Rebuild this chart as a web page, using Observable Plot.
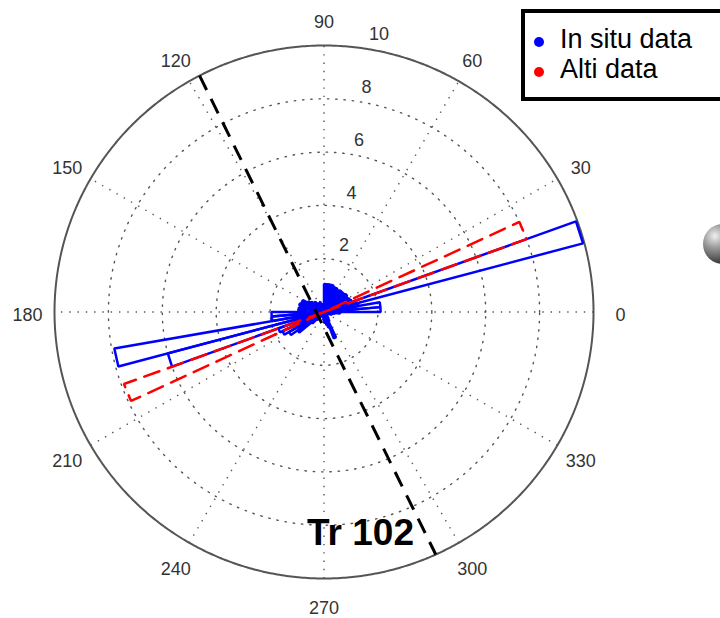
<!DOCTYPE html>
<html>
<head>
<meta charset="utf-8">
<script src="https://cdn.jsdelivr.net/npm/d3@7"></script>
<script src="https://cdn.jsdelivr.net/npm/@observablehq/plot@0.6"></script>
<style>
html, body { margin: 0; padding: 0; background: #fff; overflow: hidden; }
#wrap { position: relative; width: 720px; height: 618px; overflow: hidden; font-family: "Liberation Sans", Arial, sans-serif; }
#chart { position: absolute; left: 0; top: 0; }
#legend { position: absolute; left: 521px; top: 9px; width: 240px; height: 92px; box-sizing: border-box; border: 4px solid #000; background: #fff; }
#legend .dot { position: absolute; width: 10px; height: 10px; border-radius: 50%; }
#legend .lab { position: absolute; font-size: 27px; line-height: 27px; color: #000; white-space: nowrap; }
#title { position: absolute; left: 307px; top: 514px; font-size: 37px; line-height: 37px; font-weight: bold; color: #000; white-space: nowrap; }
#ball { position: absolute; left: 703px; top: 224px; width: 40px; height: 40px; border-radius: 50%;
  background: radial-gradient(circle at 30% 30%, #f0f0f0 0%, #9a9a9a 30%, #3a3a3a 70%, #1a1a1a 100%); }
</style>
</head>
<body>
<div id="wrap">
  <div id="chart"></div>
  <div id="ball"></div>
  <div id="legend"></div>
  <div id="title"></div>
</div>
<script>
// ---- data ----
const binWidth = 5; // degrees per rose bin, bins start at 0,5,...,355
const inSitu = [
  2.1, 2.1, 1.3, 9.95, 1.1, 1.05, 1.0, 1.05, 1.0, 1.0, 1.0, 0.95,
  1.0, 1.0, 1.05, 1.05, 1.05, 1.05, 0.3, 0.3, 0.2, 0.3, 0.4, 0.3,
  0.3, 0.4, 0.5, 0.5, 0.6, 0.7, 0.9, 0.9, 0.95, 0.9, 0.95, 0.95,
  1.95, 1.95, 7.9, 6.0, 1.8, 1.7, 1.5, 1.2, 0.6, 0.4, 0.3, 0.2,
  0, 0, 0, 0, 0.2, 0.3, 0.4, 0.4, 0.5, 0.6, 1.05, 0.4,
  0.3, 0.2, 0, 0, 0, 0, 0, 0.2, 0.3, 0.3, 0.4, 0.6
];
const alti = [
  0, 0, 0, 0, 8.0, 0, 0, 0, 0, 0, 0, 0,
  0, 0, 0, 0, 0, 0, 0, 0, 0, 0, 0, 0,
  0, 0, 0, 0, 0, 0, 0, 0, 0, 0, 0, 0,
  0, 0, 0, 0, 7.9, 0, 0, 0, 0, 0, 0, 0,
  0, 0, 0, 0, 0, 0, 0, 0, 0, 0, 0, 0,
  0, 0, 0, 0, 0, 0, 0, 0, 0, 0, 0, 0
];
const seriesNames = ["In situ data", "Alti data"];
const seriesColors = ["#0000ff", "#ff0000"];
const rMax = 10;
const ringValues = [2, 4, 6, 8];
const radialLabels = [2, 4, 6, 8, 10];
const angleLabels = [0, 30, 60, 90, 120, 150, 180, 210, 240, 270, 300, 330];
const spokeAngles = [30, 60, 90, 120, 150, 180];
const trackAngles = [117.5, 294.5]; // "Tr 102" track direction (ends on the outer circle)
const titleText = "Tr 102";

// ---- helpers ----
const rad = d => d * Math.PI / 180;
const pol = (deg, r) => ({x: r * Math.cos(rad(deg)), y: r * Math.sin(rad(deg))});

function petals(values) {
  const pts = [];
  values.forEach((v, i) => {
    if (!(v > 0)) return;
    const a1 = i * binWidth, a2 = (i + 1) * binWidth;
    [[0, 0], [a1, v], [a2, v], [0, 0]].forEach(([a, r]) => pts.push({bin: i, ...pol(a, r)}));
  });
  return pts;
}

const ringPts = [];
ringValues.forEach(r => { for (let a = 0; a <= 360; a += 1) ringPts.push({ring: r, ...pol(a, r)}); });
const outerPts = [];
for (let a = 0; a <= 360; a += 0.5) outerPts.push(pol(a, rMax));
const spokes = spokeAngles.map(a => { const p = pol(a, rMax); return {x1: -p.x, y1: -p.y, x2: p.x, y2: p.y}; });
const angleLab = angleLabels.map(a => ({...pol(a, rMax * 1.1), t: String(a)}));
const radialLab = radialLabels.map(r => ({...pol(82, r + rMax / 100), t: String(r)}));
const t1 = pol(trackAngles[0], rMax), t2 = pol(trackAngles[1], rMax);
const track = [{x1: t1.x, y1: t1.y, x2: t2.x, y2: t2.y}];

const dotted = {stroke: "#555", strokeWidth: 1.4, strokeDasharray: "1.4,6.9"};

const chart = Plot.plot({
  width: 720,
  height: 618,
  margin: 0,
  x: {domain: [-12.004, 14.712], axis: null},
  y: {domain: [-11.501, 11.689], axis: null},
  style: {background: "transparent", fontFamily: "'Liberation Sans', Arial, sans-serif", overflow: "visible"},
  marks: [
    Plot.line(ringPts, {x: "x", y: "y", z: "ring", ...dotted}),
    Plot.link(spokes, {x1: "x1", y1: "y1", x2: "x2", y2: "y2", ...dotted}),
    Plot.line(outerPts, {x: "x", y: "y", stroke: "#555", strokeWidth: 2}),
    Plot.text(angleLab, {x: "x", y: "y", text: "t", fontSize: 18, fill: "#333", dy: 3}),
    Plot.text(radialLab, {x: "x", y: "y", text: "t", fontSize: 18, fill: "#333", textAnchor: "start", dx: 7, dy: -11}),
    Plot.line(petals(inSitu), {x: "x", y: "y", z: "bin", stroke: seriesColors[0], strokeWidth: 2.5, strokeLinejoin: "miter"}),
    Plot.line(petals(alti), {x: "x", y: "y", z: "bin", stroke: seriesColors[1], strokeWidth: 2.5, strokeDasharray: "16,9", strokeLinejoin: "miter"}),
    Plot.link(track, {x1: "x1", y1: "y1", x2: "x2", y2: "y2", stroke: "#000", strokeWidth: 3, strokeDasharray: "16,10"})
  ]
});
document.getElementById("chart").appendChild(chart);

// legend
const legend = document.getElementById("legend");
seriesNames.forEach((name, i) => {
  const d = document.createElement("div");
  d.className = "dot";
  d.style.background = seriesColors[i];
  d.style.left = "9px";
  d.style.top = (23.7 + i * 30) + "px";
  legend.appendChild(d);
  const l = document.createElement("div");
  l.className = "lab";
  l.textContent = name;
  l.style.left = "35px";
  l.style.top = (12.6 + i * 30.5) + "px";
  legend.appendChild(l);
});
document.getElementById("title").textContent = titleText;
</script>
</body>
</html>
